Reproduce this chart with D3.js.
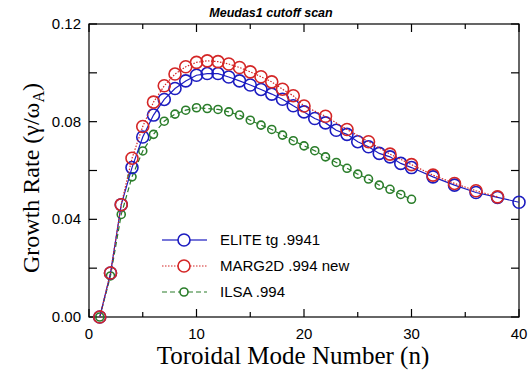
<!DOCTYPE html>
<html>
<head>
<meta charset="utf-8">
<script src="https://cdn.jsdelivr.net/npm/d3@7"></script>
<style>
  html, body { margin: 0; padding: 0; background: #fff; }
  svg { display: block; }
</style>
</head>
<body>
<svg id="chart" width="529" height="376"></svg>
<script>
// Growth rate vs toroidal mode number for three stability codes
const eliteN = [1,2,3,4,5,6,7,8,9,10,11,12,13,14,15,16,17,18,19,20,21,22,23,24,25,26,27,28,29,30,32,34,36,38,40];
const eliteGamma = [0,0.018,0.046,0.0612,0.0737,0.0827,0.0891,0.0936,0.0967,0.0990,0.0997,0.0997,0.0983,0.0967,0.0950,0.0932,0.0913,0.0892,0.0865,0.0840,0.0813,0.0795,0.0765,0.0748,0.0718,0.0697,0.0670,0.0656,0.0629,0.0612,0.0574,0.0540,0.0510,0.0490,0.0470];

const margN = [1,2,3,4,5,6,7,8,9,10,11,12,13,14,15,16,17,18,19,20,22,24,26,28,30,32,34,36,38];
const margGamma = [0,0.018,0.046,0.065,0.078,0.088,0.0947,0.0995,0.1025,0.1043,0.1049,0.1046,0.1036,0.1022,0.1004,0.0984,0.0963,0.0933,0.0906,0.0864,0.0822,0.0768,0.0718,0.0667,0.0624,0.0581,0.0547,0.0517,0.0492];

const ilsaN = [1,2,3,4,5,6,7,8,9,10,11,12,13,14,15,16,17,18,19,20,21,22,23,24,25,26,27,28,29,30];
const ilsaGamma = [0,0.0168,0.042,0.0574,0.068,0.0748,0.0802,0.0831,0.0847,0.0857,0.0854,0.0850,0.0840,0.0827,0.0806,0.0786,0.0768,0.0745,0.0722,0.0701,0.0681,0.0656,0.0633,0.0609,0.0585,0.0565,0.0540,0.0523,0.0502,0.0482];

const seriesNames = ["ELITE tg .9941", "MARG2D .994 new", "ILSA .994"];
const xMajorTicks = [0,10,20,30,40];
const xMinorTicks = [5,15,25,35];
const yMajorTicks = [0,0.04,0.08,0.12];
const yMinorTicks = [0.02,0.06,0.10];

const svg = d3.select("#chart");
const plot = {left: 89, right: 519, top: 24, bottom: 317};

const x = d3.scaleLinear().domain([0, 40]).range([plot.left, plot.right]);
const y = d3.scaleLinear().domain([0, 0.12]).range([plot.bottom, plot.top]);

const series = [
  {name: seriesNames[2], n: ilsaN, v: ilsaGamma, color: "#2a7d2a", dash: "5,3", r: 4},
  {name: seriesNames[0], n: eliteN, v: eliteGamma, color: "#1c1cc0", dash: null, r: 6},
  {name: seriesNames[1], n: margN, v: margGamma, color: "#d42626", dash: "1.5,1.5", r: 6}
];

// Frame
svg.append("rect")
  .attr("x", plot.left).attr("y", plot.top)
  .attr("width", plot.right - plot.left).attr("height", plot.bottom - plot.top)
  .attr("fill", "none").attr("stroke", "#000").attr("stroke-width", 1.2);

// Inward ticks on all four sides
function xticks(values, len) {
  const g = svg.append("g").attr("stroke", "#000").attr("stroke-width", 1.2);
  values.forEach(t => {
    g.append("line").attr("x1", x(t)).attr("x2", x(t)).attr("y1", plot.bottom).attr("y2", plot.bottom - len);
    g.append("line").attr("x1", x(t)).attr("x2", x(t)).attr("y1", plot.top).attr("y2", plot.top + len);
  });
}
xticks(xMajorTicks, 8);
xticks(xMinorTicks, 5);
function yticks(values, len) {
  const g = svg.append("g").attr("stroke", "#000").attr("stroke-width", 1.2);
  values.forEach(t => {
    g.append("line").attr("y1", y(t)).attr("y2", y(t)).attr("x1", plot.left).attr("x2", plot.left + len);
    g.append("line").attr("y1", y(t)).attr("y2", y(t)).attr("x1", plot.right).attr("x2", plot.right - len);
  });
}
yticks(yMajorTicks, 8);
yticks(yMinorTicks, 8);

// Tick labels
const labelFont = "Liberation Sans, Arial, sans-serif";
svg.append("g").selectAll("text").data(xMajorTicks).join("text")
  .attr("x", d => x(d)).attr("y", 339)
  .attr("text-anchor", "middle")
  .attr("font-family", labelFont).attr("font-size", 15)
  .text(d => d);
svg.append("g").selectAll("text").data(yMajorTicks).join("text")
  .attr("x", plot.left - 8).attr("y", d => y(d) + 5)
  .attr("text-anchor", "end")
  .attr("font-family", labelFont).attr("font-size", 15)
  .text(d => d3.format(".2f")(d));

// Series lines and hollow markers
series.forEach(s => {
  const pts = s.n.map((n, i) => [n, s.v[i]]);
  const line = d3.line().x(d => x(d[0])).y(d => y(d[1]));
  svg.append("path").datum(pts)
    .attr("d", line).attr("fill", "none")
    .attr("stroke", s.color).attr("stroke-width", 1.2)
    .attr("stroke-dasharray", s.dash);
  svg.append("g").selectAll("circle").data(pts).join("circle")
    .attr("cx", d => x(d[0])).attr("cy", d => y(d[1])).attr("r", s.r)
    .attr("fill", "none").attr("stroke", s.color).attr("stroke-width", 1.6);
});

// Legend
const legendOrder = [series[1], series[2], series[0]];
legendOrder.forEach((s, i) => {
  const yy = 240 + i * 26;
  const cx = 184;
  const g = svg.append("g");
  g.append("line").attr("x1", 162).attr("x2", cx - s.r).attr("y1", yy).attr("y2", yy)
    .attr("stroke", s.color).attr("stroke-width", 1.2).attr("stroke-dasharray", s.dash);
  g.append("line").attr("x1", cx + s.r).attr("x2", 207).attr("y1", yy).attr("y2", yy)
    .attr("stroke", s.color).attr("stroke-width", 1.2).attr("stroke-dasharray", s.dash);
  g.append("circle").attr("cx", cx).attr("cy", yy).attr("r", s.r)
    .attr("fill", "#fff").attr("stroke", s.color).attr("stroke-width", 1.6);
  g.append("text").attr("x", 220).attr("y", yy + 5)
    .attr("font-family", labelFont).attr("font-size", 15)
    .text(s.name);
});

// Title
svg.append("text").attr("x", 271).attr("y", 17)
  .attr("text-anchor", "middle")
  .attr("font-family", labelFont).attr("font-size", 12.5)
  .attr("font-weight", "bold").attr("font-style", "italic")
  .text("Meudas1 cutoff scan");

// Axis titles
svg.append("text").attr("x", 293).attr("y", 364)
  .attr("text-anchor", "middle")
  .attr("font-family", "Liberation Serif, Times New Roman, serif").attr("font-size", 25)
  .text("Toroidal Mode Number (n)");

const yl = svg.append("text")
  .attr("transform", "translate(39,178) rotate(-90)")
  .attr("text-anchor", "middle")
  .attr("font-family", "Liberation Serif, Times New Roman, serif").attr("font-size", 24);
yl.append("tspan").text("Growth Rate (γ/ω");
yl.append("tspan").attr("font-size", 16).attr("dy", 5).text("A");
yl.append("tspan").attr("dy", -5).text(")");
</script>
</body>
</html>
